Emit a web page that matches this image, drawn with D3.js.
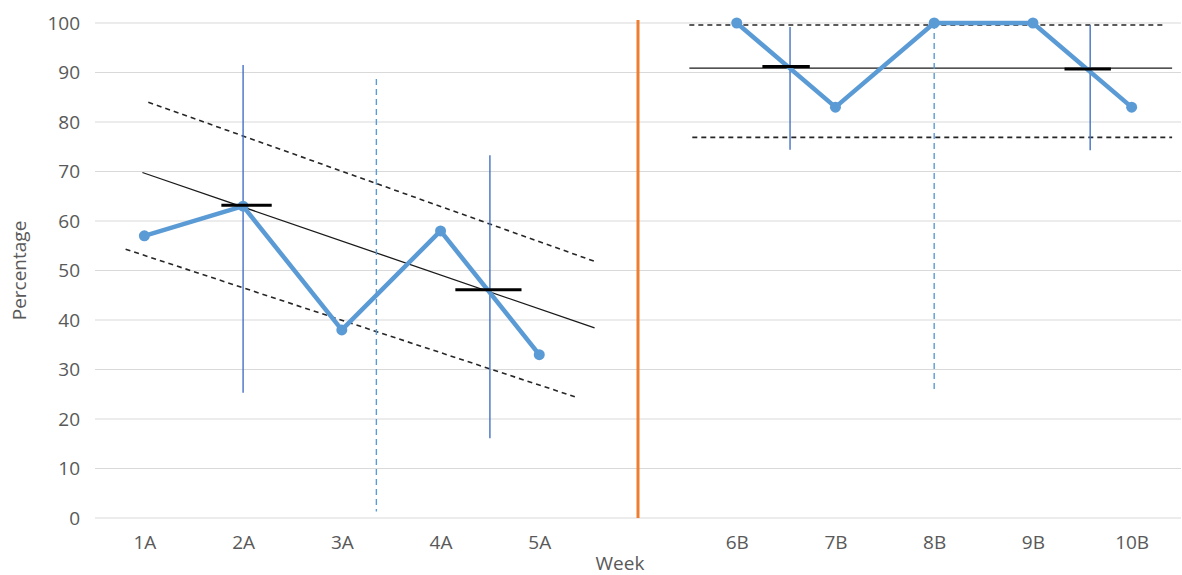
<!DOCTYPE html>
<html lang="en">
<head>
<meta charset="UTF-8">
<title>Percentage by Week</title>
<script src="https://d3js.org/d3.v7.min.js"></script>
<style>
    body {
        margin: 0;
        background-color: #fff;
    }

    .tick-label {
        font-family: "Open Sans", sans-serif;
        font-size: 19px;
        fill: #595959;
    }

    .grid line {
        stroke: #d9d9d9;
        stroke-width: 1;
    }
</style>
</head>
<body>

<div id="chart"></div>

<script>
    // categories (blank slot holds the divider between phase A and phase B)
    const weeks = ["1A", "2A", "3A", "4A", "5A", "", "6B", "7B", "8B", "9B", "10B"];
    const percentage = [57, 63, 38, 58, 33, null, 100, 83, 100, 100, 83];
    const yTicks = [0, 10, 20, 30, 40, 50, 60, 70, 80, 90, 100];

    // trend lines: [position (category index), value]
    const trendA = [[-0.02, 69.8], [4.56, 38.4]];
    const upperA = [[0.04, 84.0], [4.58, 51.7]];
    const lowerA = [[-0.19, 54.3], [4.36, 24.5]];
    const trendB = [[5.52, 90.9], [10.41, 90.9]];
    const upperB = [[5.52, 99.6], [10.32, 99.6]];
    const lowerB = [[5.55, 76.9], [10.41, 76.9]];

    // vertical ranges
    const rangesSolid = [
        { pos: 1.0, lo: 25.3, hi: 91.5 },
        { pos: 3.5, lo: 16.1, hi: 73.3 },
        { pos: 6.54, lo: 74.4, hi: 99.2 },
        { pos: 9.58, lo: 74.3, hi: 99.6 }
    ];
    const rangesDashed = [
        { pos: 2.35, lo: 1.3, hi: 88.7 },
        { pos: 8.0, lo: 25.5, hi: 100 }
    ];
    // short black markers
    const caps = [
        { from: 0.78, to: 1.29, v: 63.2 },
        { from: 3.15, to: 3.82, v: 46.1 },
        { from: 6.26, to: 6.74, v: 91.2 },
        { from: 9.32, to: 9.79, v: 90.7 }
    ];
    const divider = { pos: 5, lo: 0, hi: 100.6 };

    const W = 1182, H = 575;
    const margin = { top: 23, right: 1, bottom: 57, left: 95 };

    const svg = d3.select("#chart")
        .append("svg")
        .attr("width", W)
        .attr("height", H);

    const x = d3.scalePoint()
        .domain(weeks.map((d, i) => i))
        .range([margin.left, W - margin.right])
        .padding(0.5);

    // fractional category positions
    const xp = d3.scaleLinear()
        .domain([0, weeks.length - 1])
        .range([x(0), x(weeks.length - 1)]);

    const y = d3.scaleLinear()
        .domain([0, 100])
        .range([H - margin.bottom, margin.top]);

    // gridlines
    svg.append("g")
        .attr("class", "grid")
        .selectAll("line")
        .data(yTicks)
        .join("line")
        .attr("x1", margin.left)
        .attr("x2", W - margin.right)
        .attr("y1", d => y(d))
        .attr("y2", d => y(d));

    // y axis labels
    const yAxis = d3.axisLeft(y).tickValues(yTicks).tickSize(0).tickPadding(15);
    const yg = svg.append("g")
        .attr("transform", `translate(${margin.left},0)`)
        .call(yAxis);
    yg.select(".domain").remove();
    yg.selectAll("text").attr("class", "tick-label").attr("font-size", null).attr("font-family", null);

    // x axis labels
    const xAxis = d3.axisBottom(x).tickFormat(i => weeks[i]).tickSize(0).tickPadding(18);
    const xg = svg.append("g")
        .attr("transform", `translate(0,${y(0)})`)
        .call(xAxis);
    xg.select(".domain").remove();
    xg.selectAll("text").attr("class", "tick-label").attr("font-size", null).attr("font-family", null);

    // axis titles
    svg.append("text")
        .attr("class", "tick-label")
        .attr("x", 620)
        .attr("y", 570)
        .attr("text-anchor", "middle")
        .text("Week");

    svg.append("text")
        .attr("class", "tick-label")
        .attr("transform", `translate(26,${(y(0) + y(100)) / 2}) rotate(-90)`)
        .attr("text-anchor", "middle")
        .text("Percentage");

    const line = d3.line()
        .x(d => xp(d[0]))
        .y(d => y(d[1]));

    // trend lines
    [trendA, trendB].forEach(t => {
        svg.append("path")
            .datum(t)
            .attr("d", line)
            .attr("fill", "none")
            .attr("stroke", "#1a1a1a")
            .attr("stroke-width", 1.3);
    });
    [upperA, lowerA, upperB, lowerB].forEach(t => {
        svg.append("path")
            .datum(t)
            .attr("d", line)
            .attr("fill", "none")
            .attr("stroke", "#262626")
            .attr("stroke-width", 1.6)
            .attr("stroke-dasharray", "5,4");
    });

    // vertical ranges
    svg.selectAll(".range-solid")
        .data(rangesSolid)
        .join("line")
        .attr("class", "range-solid")
        .attr("x1", d => xp(d.pos))
        .attr("x2", d => xp(d.pos))
        .attr("y1", d => y(d.hi))
        .attr("y2", d => y(d.lo))
        .attr("stroke", "#4472c4")
        .attr("stroke-width", 1.4);

    svg.selectAll(".range-dashed")
        .data(rangesDashed)
        .join("line")
        .attr("class", "range-dashed")
        .attr("x1", d => xp(d.pos))
        .attr("x2", d => xp(d.pos))
        .attr("y1", d => y(d.hi))
        .attr("y2", d => y(d.lo))
        .attr("stroke", "#5b9bd5")
        .attr("stroke-width", 1.4)
        .attr("stroke-dasharray", "6,4");

    // phase divider
    svg.append("line")
        .attr("x1", xp(divider.pos))
        .attr("x2", xp(divider.pos))
        .attr("y1", y(divider.hi))
        .attr("y2", y(divider.lo))
        .attr("stroke", "#ed7d31")
        .attr("stroke-width", 3);

    // data line
    const dataLine = d3.line()
        .defined(d => d != null)
        .x((d, i) => x(i))
        .y(d => y(d));

    svg.append("path")
        .datum(percentage)
        .attr("d", dataLine)
        .attr("fill", "none")
        .attr("stroke", "#5b9bd5")
        .attr("stroke-width", 4.5)
        .attr("stroke-linejoin", "round");

    svg.selectAll(".pt")
        .data(percentage.map((v, i) => ({ v, i })).filter(d => d.v != null))
        .join("circle")
        .attr("class", "pt")
        .attr("cx", d => x(d.i))
        .attr("cy", d => y(d.v))
        .attr("r", 5.5)
        .attr("fill", "#5b9bd5");

    // black markers
    svg.selectAll(".cap")
        .data(caps)
        .join("line")
        .attr("class", "cap")
        .attr("x1", d => xp(d.from))
        .attr("x2", d => xp(d.to))
        .attr("y1", d => y(d.v))
        .attr("y2", d => y(d.v))
        .attr("stroke", "#000")
        .attr("stroke-width", 3);
</script>

</body>
</html>
